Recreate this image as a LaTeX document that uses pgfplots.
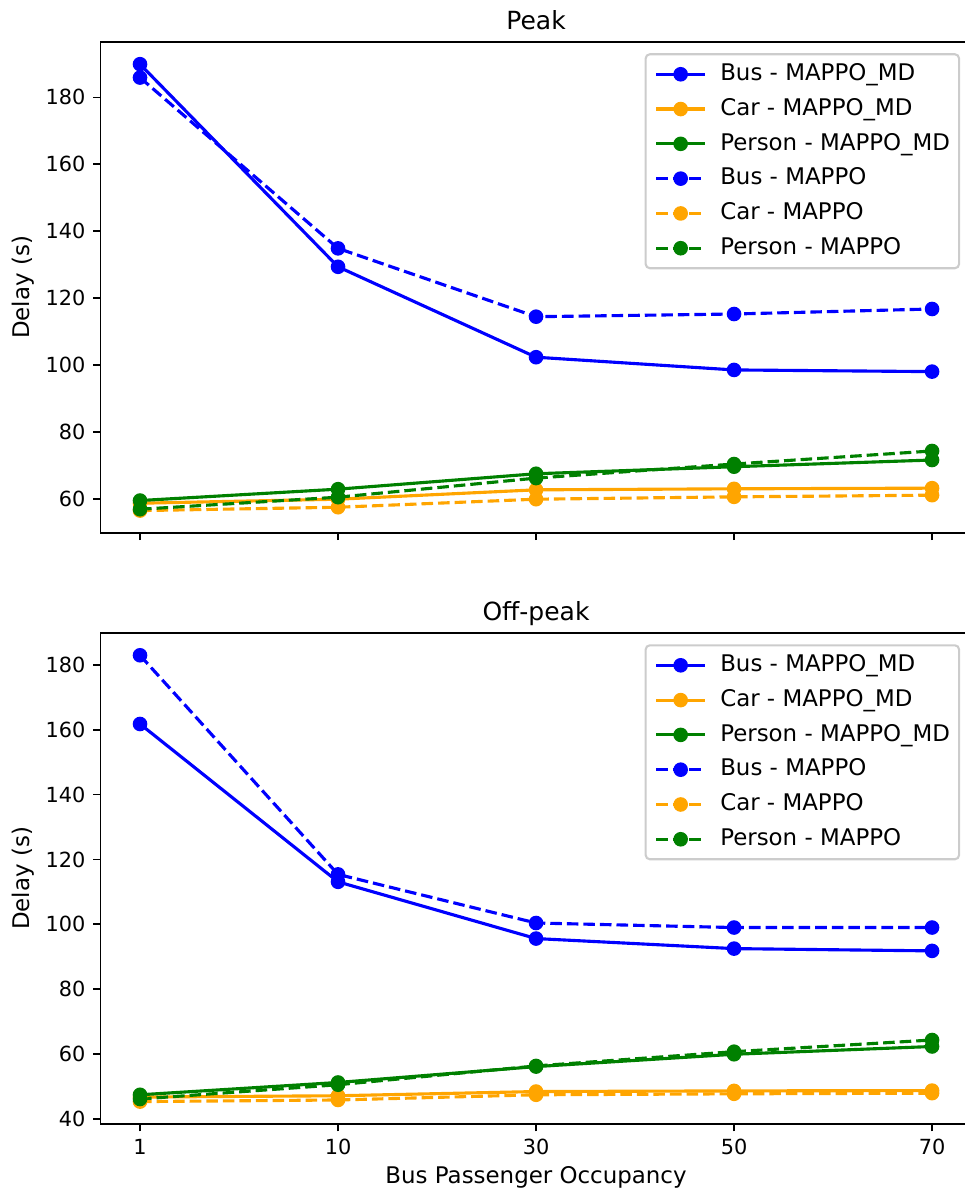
\documentclass[border=0pt]{standalone}
\usepackage{fontspec}
\setmainfont{DejaVu Sans}
\usepackage{pgfplots}
\pgfplotsset{compat=1.18}
\definecolor{mblue}{RGB}{0,0,255}
\definecolor{morange}{RGB}{255,165,0}
\definecolor{mgreen}{RGB}{0,128,0}
\pgfplotsset{
  myaxis/.style={
    scale only axis, width=418.2pt, height=235.7pt,
    xmin=-0.2, xmax=4.2, xtick={0,1,2,3,4},
    axis y line*=left,
    axis line style={line width=0.8pt, -},
    every tick/.style={black, line width=0.8pt},
    major tick length=3.5pt, tick align=outside,
    xtick pos=left, ytick pos=left,
    /pgf/number format/assume math mode=true,
    ticklabel style={font=\fontsize{10}{12}\selectfont},
    yticklabel style={anchor=east, inner sep=0pt, xshift=-3.5pt},
    xticklabel style={anchor=north, inner sep=0pt, yshift=-3.5pt},
    title style={font=\fontsize{12}{14}\selectfont, at={(0.5,1)}, anchor=base},
    ylabel style={font=\fontsize{11}{13}\selectfont, at={(axis description cs:-0.0885,0.5)}, anchor=center, rotate=0},
    xlabel style={font=\fontsize{11}{13}\selectfont, at={(axis description cs:0.5,0)}, anchor=base, yshift=-28.8pt},
    legend cell align=left,
    legend style={at={(1,1)}, anchor=north east, xshift=-5.55pt, yshift=-5.45pt,
      draw=black!20, line width=1pt, rounded corners=2pt, fill=white,
      font=\fontsize{11}{13}\selectfont, inner xsep=4.3pt, inner ysep=4.1pt,
      row sep=5.7pt, column sep=6.5pt,
      nodes={inner sep=0pt, text height=8.5pt, text depth=2.5pt}},
    legend image code/.code={\draw[mark repeat=2,mark phase=2,##1] plot coordinates {(0pt,0pt) (11.75pt,0pt) (23.5pt,0pt)};},
  },
  mline/.style={line width=1.5pt, mark=*, mark size=3pt, mark options={solid, line width=1pt}},
  mdash/.style={mline, dash pattern=on 5.55pt off 2.4pt},
}
\begin{document}
\begin{tikzpicture}
\useasboundingbox (-48.2pt,-34.1pt) rectangle (415.0pt,539.5pt);
\clip (-48.2pt,-34.1pt) rectangle (415.0pt,539.5pt);
\begin{axis}[myaxis, at={(0,283.7pt)}, anchor=south west,
  ymin=49.935, ymax=196.565, ytick={60,80,100,120,140,160,180},
  xticklabels={}, title={Peak}, ylabel={Delay (s)}]
\addplot[mline, color=mblue] coordinates {(0,189.9) (1,129.4) (2,102.4) (3,98.6) (4,98.1)};
\addlegendentry{Bus - MAPPO\_MD}
\addplot[mline, color=morange] coordinates {(0,58.8) (1,60.0) (2,62.8) (3,63.1) (4,63.3)};
\addlegendentry{Car - MAPPO\_MD}
\addplot[mline, color=mgreen] coordinates {(0,59.6) (1,63.0) (2,67.6) (3,69.7) (4,71.7)};
\addlegendentry{Person - MAPPO\_MD}
\addplot[mdash, color=mblue] coordinates {(0,185.9) (1,134.9) (2,114.5) (3,115.3) (4,116.8)};
\addlegendentry{Bus - MAPPO}
\addplot[mdash, color=morange] coordinates {(0,56.6) (1,57.6) (2,60.0) (3,60.7) (4,61.2)};
\addlegendentry{Car - MAPPO}
\addplot[mdash, color=mgreen] coordinates {(0,57.0) (1,60.6) (2,66.3) (3,70.5) (4,74.4)};
\addlegendentry{Person - MAPPO}
\end{axis}
\begin{axis}[myaxis, at={(0,0)}, anchor=south west,
  ymin=38.4, ymax=189.9, ytick={40,60,80,100,120,140,160,180},
  xticklabels={1,10,30,50,70}, title={Off-peak}, ylabel={Delay (s)},
  xlabel={Bus Passenger Occupancy}]
\addplot[mline, color=mblue] coordinates {(0,161.8) (1,113.1) (2,95.6) (3,92.5) (4,91.8)};
\addlegendentry{Bus - MAPPO\_MD}
\addplot[mline, color=morange] coordinates {(0,46.7) (1,47.1) (2,48.4) (3,48.6) (4,48.7)};
\addlegendentry{Car - MAPPO\_MD}
\addplot[mline, color=mgreen] coordinates {(0,47.4) (1,51.2) (2,56.1) (3,59.9) (4,62.3)};
\addlegendentry{Person - MAPPO\_MD}
\addplot[mdash, color=mblue] coordinates {(0,183.0) (1,115.4) (2,100.4) (3,99.0) (4,99.0)};
\addlegendentry{Bus - MAPPO}
\addplot[mdash, color=morange] coordinates {(0,45.3) (1,45.8) (2,47.4) (3,47.7) (4,47.9)};
\addlegendentry{Car - MAPPO}
\addplot[mdash, color=mgreen] coordinates {(0,46.1) (1,50.5) (2,56.3) (3,60.7) (4,64.3)};
\addlegendentry{Person - MAPPO}
\end{axis}
\end{tikzpicture}
\end{document}
